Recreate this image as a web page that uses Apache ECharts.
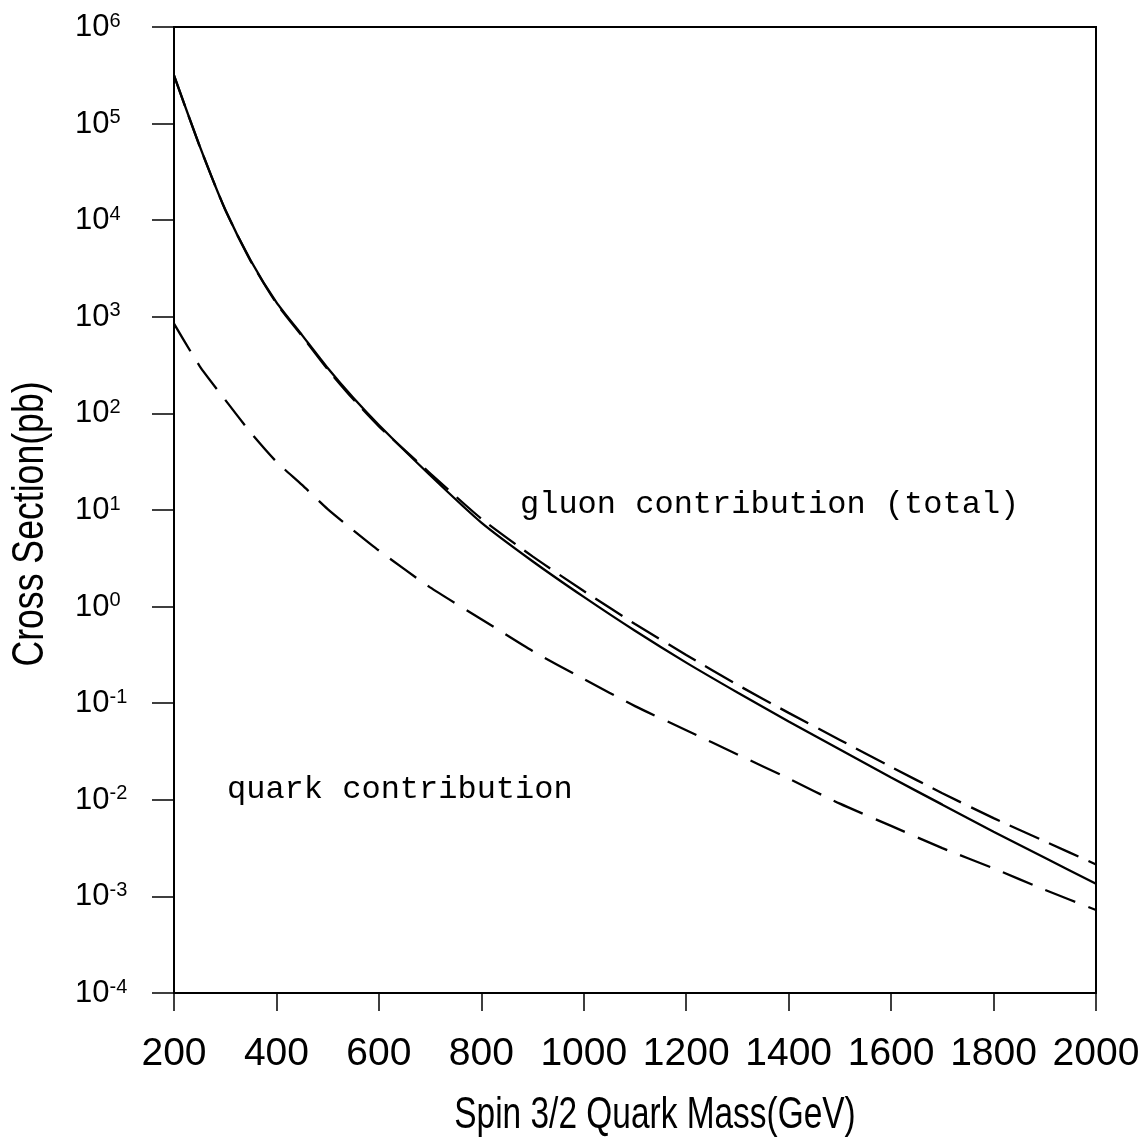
<!DOCTYPE html>
<html>
<head>
<meta charset="utf-8">
<script src="https://cdn.jsdelivr.net/npm/echarts@6/dist/echarts.min.js"></script>
<style>
  html, body { margin: 0; padding: 0; background: #fff; }
  #main { width: 1148px; height: 1146px; }
</style>
</head>
<body>
<div id="main"></div>
<script>
// masses in GeV, cross sections in pb
var masses = [200, 250, 300, 350, 400, 450, 500, 550, 600, 700, 800, 900, 1000,
  1100, 1200, 1300, 1400, 1500, 1600, 1700, 1800, 1900, 2000];
var total = [3.16e5, 5.89e4, 1.29e4, 3.80e3, 1.41e3, 646, 295, 145, 75.9, 22.9, 7.41, 2.95, 1.26,
  0.562, 0.263, 0.129, 0.0646, 0.0331, 0.0170, 0.00891, 0.00468, 0.00251, 0.00135];
var gluon = [3.15e5, 5.85e4, 1.28e4, 3.75e3, 1.38e3, 630, 285, 140, 73.5, 24.0, 8.13, 3.31, 1.45,
  0.661, 0.316, 0.155, 0.0794, 0.0417, 0.0219, 0.0117, 0.00646, 0.00372, 0.00214];
var quark = [851, 309, 138, 63.1, 31.6, 18.2, 10.2, 6.17, 3.80, 1.58, 0.741, 0.347, 0.178,
  0.0933, 0.0525, 0.0295, 0.0166, 0.00912, 0.00537, 0.00316, 0.00195, 0.00117, 0.000724];

var xTicks = [200, 400, 600, 800, 1000, 1200, 1400, 1600, 1800, 2000];
var yExponents = [-4, -3, -2, -1, 0, 1, 2, 3, 4, 5, 6];

function pairs(ys) {
  return masses.map(function (m, i) { return [m, ys[i]]; });
}

var titleFont = '44px "Liberation Sans", Arial, sans-serif';
var monoFont = '32px "Liberation Mono", "Courier New", monospace';

var myChart = echarts.init(document.getElementById('main'));

myChart.setOption({
  animation: false,
  backgroundColor: '#fff',
  grid: {
    left: 174, right: 52, top: 27, bottom: 153,
    show: true, borderColor: '#000', borderWidth: 2
  },
  xAxis: {
    type: 'value',
    min: xTicks[0],
    max: xTicks[xTicks.length - 1],
    interval: 200,
    axisLine: { lineStyle: { color: '#000', width: 2 } },
    axisTick: { length: 18, lineStyle: { color: '#000', width: 1.5 } },
    axisLabel: {
      margin: 42, color: '#000',
      fontFamily: 'Liberation Sans, Arial, sans-serif', fontSize: 39,
      formatter: function (v) { return String(v); }
    },
    splitLine: { show: false }
  },
  yAxis: {
    type: 'log',
    logBase: 10,
    min: Math.pow(10, yExponents[0]),
    max: Math.pow(10, yExponents[yExponents.length - 1]),
    interval: 1,
    axisLine: { lineStyle: { color: '#000', width: 2 } },
    axisTick: { length: 22, lineStyle: { color: '#000', width: 1.5 } },
    minorTick: { show: false },
    axisLabel: {
      margin: 99,
      align: 'left',
      formatter: function (v) {
        var e = Math.round(Math.log10(v));
        return '{b|10}{s|' + e + '}';
      },
      rich: {
        b: { fontFamily: 'Liberation Sans, Arial, sans-serif', fontSize: 31, color: '#000',
             lineHeight: 32, verticalAlign: 'bottom' },
        s: { fontFamily: 'Liberation Sans, Arial, sans-serif', fontSize: 20, color: '#000',
             lineHeight: 16, verticalAlign: 'top' }
      }
    },
    splitLine: { show: false }
  },
  graphic: [
    {
      type: 'text', x: 655, y: 1116, scaleX: 0.76,
      style: { text: 'Spin 3/2 Quark Mass(GeV)', fill: '#000', font: titleFont,
               align: 'center', verticalAlign: 'middle' }
    },
    {
      type: 'text', x: 31, y: 524, rotation: Math.PI / 2, scaleX: 0.81,
      style: { text: 'Cross Section(pb)', fill: '#000', font: titleFont,
               align: 'center', verticalAlign: 'middle' }
    },
    {
      type: 'text', left: 520, top: 489,
      style: { text: 'gluon contribution (total)', fill: '#000', font: monoFont }
    },
    {
      type: 'text', left: 227, top: 774,
      style: { text: 'quark contribution', fill: '#000', font: monoFont }
    }
  ],
  series: [
    {
      name: 'total', type: 'line', data: pairs(total),
      showSymbol: false, smooth: 0.2,
      lineStyle: { color: '#000', width: 2.3, type: 'solid' }
    },
    {
      name: 'gluon', type: 'line', data: pairs(gluon),
      showSymbol: false, smooth: 0.2,
      lineStyle: { color: '#000', width: 2.3, type: [32, 11] }
    },
    {
      name: 'quark', type: 'line', data: pairs(quark),
      showSymbol: false, smooth: 0.2,
      lineStyle: { color: '#000', width: 2.3, type: [32, 14] }
    }
  ]
});
</script>
</body>
</html>
